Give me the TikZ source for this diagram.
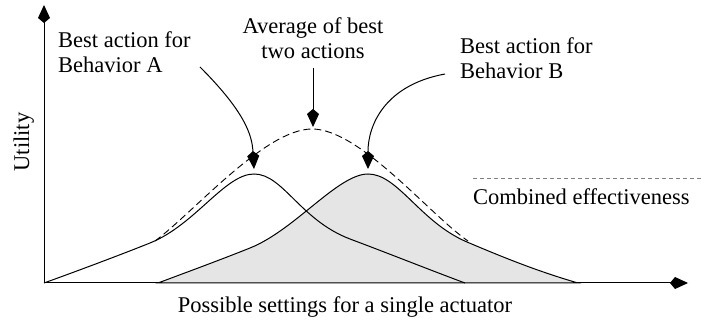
\documentclass[tikz,border=0pt]{standalone}
\usepackage{fontspec}
\setmainfont{Liberation Serif}
\usetikzlibrary{arrows.meta}
\definecolor{lightfill}{HTML}{E5E5E5}
\definecolor{legendgray}{HTML}{808080}
\tikzstyle{txt}=[inner sep=0pt, font=\fontsize{22.5}{25}\selectfont]
\tikzstyle{curve}=[line width=1pt]
\tikzstyle{pointer}=[line width=1pt, -{Kite[length=18pt,width=12pt,inset=5pt]}]
\tikzstyle{combined}=[line width=0.9pt, dash pattern=on 7pt off 4pt]

\begin{document}
\begin{tikzpicture}[x=1pt, y=-1pt]
    \useasboundingbox (0,0) rectangle (702,320);

    % axes
    \coordinate (o) at (44,283);
    \coordinate (ytop) at (44,5);
    \coordinate (xend) at (688,283);
    \draw[pointer] (o) -- (ytop);
    \draw[pointer] (o) -- (xend);
    \node[txt, rotate=90, anchor=base] (util) at (29,142) {Utility};
    \node[txt, anchor=base] (settings) at (345,313) {Possible settings for a single actuator};

    % behavior B (filled)
    \filldraw[curve, fill=lightfill] (158,283)
        .. controls (190,271) and (220,260) .. (250,248)
        .. controls (295,230) and (338,174) .. (368,174)
        .. controls (398,174) and (420,222) .. (467,242)
        .. controls (507,259) and (540,272) .. (578,283) -- cycle;
    % behavior A
    \draw[curve] (o)
        .. controls (80,270) and (120,255) .. (150,243)
        .. controls (195,225) and (225,174) .. (254,174)
        .. controls (283,174) and (300,220) .. (350,239)
        .. controls (390,254) and (430,270) .. (465,283);
    % combined
    \draw[combined] (155,241)
        .. controls (193,213) and (265,129) .. (312,129)
        .. controls (360,129) and (430,215) .. (468,241);

    % labels
    \node[txt, anchor=north west, align=left] (bestA) at (58,31.5) {Best action for\\Behavior A};
    \node[txt, anchor=north, align=center] (avg) at (313,17.5) {Average of best\\two actions};
    \node[txt, anchor=north west, align=left] (bestB) at (460,37.5) {Best action for\\Behavior B};

    % pointers
    \coordinate (fromA) at (200,67);
    \coordinate (peakA) at (254,169);
    \coordinate (fromAvg) at (313,68);
    \coordinate (peakAvg) at (313,127);
    \coordinate (fromB) at (445,74);
    \coordinate (peakB) at (368,169);
    \draw[pointer] (fromA) .. controls (245,112) and (252,135) .. (peakA);
    \draw[pointer] (fromAvg) -- (peakAvg);
    \draw[pointer] (fromB) .. controls (385,85) and (368,125) .. (peakB);

    % legend
    \coordinate (leg0) at (473,178);
    \coordinate (leg1) at (702,178);
    \draw[legendgray, line width=0.9pt, dash pattern=on 4pt off 3pt] (leg0) -- (leg1);
    \node[txt, anchor=base west] (legend) at (473,205) {Combined effectiveness};
\end{tikzpicture}
\end{document}
